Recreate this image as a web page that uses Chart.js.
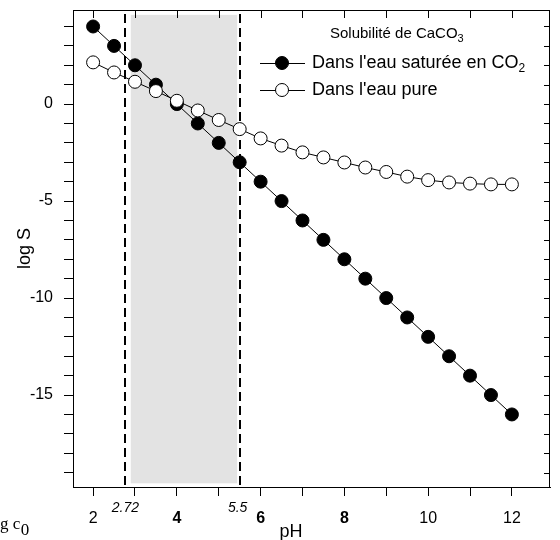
<!DOCTYPE html>
<html lang="fr">
<head>
  <meta charset="UTF-8" />
  <title>Solubilité de CaCO3</title>
  <script src="https://cdn.jsdelivr.net/npm/chart.js"></script>
  <style>
    body { margin: 0; background: #fff; }
    canvas { display: block; }
  </style>
</head>
<body>
  <canvas id="solubilityChart" width="560" height="540"></canvas>

  <script>
    // données
    const phValues = [2, 2.5, 3, 3.5, 4, 4.5, 5, 5.5, 6, 6.5, 7, 7.5, 8, 8.5, 9, 9.5, 10, 10.5, 11, 11.5, 12];
    const logSCo2 = [4, 3, 2, 1, 0, -1, -2, -3, -4, -5, -6, -7, -8, -9, -10, -11, -12, -13, -14, -15, -16];
    const logSPure = [2.15, 1.63, 1.15, 0.67, 0.17, -0.33, -0.82, -1.29, -1.77, -2.14, -2.49, -2.75, -3.01,
                      -3.27, -3.5, -3.74, -3.92, -4.04, -4.1, -4.14, -4.14];

    const xTicks = [2, 3, 4, 5, 6, 7, 8, 9, 10, 11, 12];
    const xTickLabels = [2, 4, 6, 8, 10, 12];
    const yTicks = [-19, -18, -17, -16, -15, -14, -13, -12, -11, -10, -9, -8, -7, -6, -5, -4, -3, -2, -1, 0, 1, 2, 3, 4];
    const yTickLabels = [-15, -10, -5, 0];

    // lignes pointillées et zone grisée
    const markerPh = [2.77, 5.5];
    const markerLabels = ['2.72', '5.5'];
    const bandPh = [2.9, 5.44];
    const bandLogS = [4.6, -19.55];

    const seriesNames = ["Dans l'eau saturée en CO", "Dans l'eau pure"];
    const boldXTicks = [4, 6, 8];

    const FONT = "'Liberation Sans', Arial, sans-serif";
    const SERIF = "'Liberation Serif', 'Times New Roman', serif";

    const decorPlugin = {
      id: 'decor',
      beforeDatasetsDraw(chart) {
        const { ctx, chartArea: a, scales: { x, y } } = chart;
        ctx.save();
        // zone grisée
        const bx0 = x.getPixelForValue(bandPh[0]);
        const bx1 = x.getPixelForValue(bandPh[1]);
        const by0 = y.getPixelForValue(bandLogS[0]);
        const by1 = y.getPixelForValue(bandLogS[1]);
        ctx.fillStyle = '#e3e3e3';
        ctx.fillRect(bx0, by0, bx1 - bx0, by1 - by0);
        // pointillés verticaux
        ctx.strokeStyle = '#000';
        ctx.lineWidth = 2;
        ctx.setLineDash([9, 5]);
        markerPh.forEach(v => {
          const px = Math.round(x.getPixelForValue(v));
          ctx.beginPath();
          ctx.moveTo(px, a.top + 4);
          ctx.lineTo(px, a.bottom);
          ctx.stroke();
        });
        ctx.restore();
      },
      afterDraw(chart) {
        const { ctx, chartArea: a, scales: { x, y } } = chart;
        ctx.save();
        ctx.strokeStyle = '#000';
        ctx.lineWidth = 1;
        // cadre + graduations intérieures haut/droite
        ctx.strokeRect(a.left + 0.5, a.top + 0.5, a.right - a.left - 1, a.bottom - a.top);
        ctx.beginPath();
        xTicks.forEach(v => {
          const px = Math.round(x.getPixelForValue(v)) + 0.5;
          ctx.moveTo(px, a.top);
          ctx.lineTo(px, a.top + 8);
        });
        yTicks.forEach(v => {
          const py = Math.round(y.getPixelForValue(v)) + 0.5;
          ctx.moveTo(a.right, py);
          ctx.lineTo(a.right - 6, py);
        });
        ctx.stroke();

        // étiquettes 2.72 et 5.5
        ctx.fillStyle = '#000';
        ctx.font = 'italic 14px ' + FONT;
        ctx.textAlign = 'center';
        ctx.textBaseline = 'alphabetic';
        markerPh.forEach((v, i) => {
          ctx.fillText(markerLabels[i], x.getPixelForValue(v) - (i === 1 ? 2 : 0), 512);
        });

        // titre de l'axe x
        ctx.font = '18px ' + FONT;
        ctx.fillText('pH', 291, 537);

        // légende
        ctx.textAlign = 'left';
        ctx.font = '15px ' + FONT;
        const tTitle = 'Solubilité de CaCO';
        ctx.fillText(tTitle, 330, 38);
        const tw = ctx.measureText(tTitle).width;
        ctx.font = '11px ' + FONT;
        ctx.fillText('3', 330 + tw, 42);

        const rows = [63, 90];
        rows.forEach((ry, i) => {
          ctx.beginPath();
          ctx.moveTo(260, ry + 0.5);
          ctx.lineTo(305, ry + 0.5);
          ctx.stroke();
          ctx.beginPath();
          ctx.arc(282, ry, 6.5, 0, Math.PI * 2);
          ctx.fillStyle = i === 0 ? '#000' : '#fff';
          ctx.fill();
          ctx.stroke();
          ctx.fillStyle = '#000';
          ctx.font = '18px ' + FONT;
          ctx.fillText(seriesNames[i], 312, ry + 5);
          if (i === 0) {
            const w = ctx.measureText(seriesNames[i]).width;
            ctx.font = '12px ' + FONT;
            ctx.fillText('2', 312 + w, ry + 9);
          }
        });

        // texte coupé en bas à gauche
        ctx.font = '17px ' + SERIF;
        const pre = ctx.measureText('lo').width;
        ctx.fillText('log c', -pre, 529);
        const wc = ctx.measureText('log c').width;
        ctx.fillText('0', -pre + wc + 0.5, 535);
        ctx.restore();
      }
    };

    const ctx = document.getElementById('solubilityChart').getContext('2d');
    new Chart(ctx, {
      type: 'line',
      data: {
        datasets: [
          {
            label: seriesNames[0] + '2',
            data: phValues.map((p, i) => ({ x: p, y: logSCo2[i] })),
            borderColor: '#000',
            borderWidth: 1,
            pointRadius: 6.5,
            pointBackgroundColor: '#000',
            pointBorderColor: '#000',
            pointBorderWidth: 1,
            tension: 0,
            order: 1
          },
          {
            label: seriesNames[1],
            data: phValues.map((p, i) => ({ x: p, y: logSPure[i] })),
            borderColor: '#000',
            borderWidth: 1,
            pointRadius: 6.5,
            pointBackgroundColor: '#fff',
            pointBorderColor: '#000',
            pointBorderWidth: 1,
            tension: 0,
            order: 0
          }
        ]
      },
      options: {
        responsive: false,
        animation: false,
        layout: { padding: { top: 10, right: 10, left: 0, bottom: 0 } },
        plugins: {
          legend: { display: false },
          tooltip: { enabled: false }
        },
        scales: {
          x: {
            type: 'linear',
            min: 1.52,
            max: 12.91,
            afterFit: s => { s.height = 53; s.paddingLeft = 0; s.paddingRight = 0; },
            afterBuildTicks: s => { s.ticks = xTicks.map(v => ({ value: v })); },
            border: { display: true, color: '#000', width: 1 },
            grid: { drawOnChartArea: false, drawTicks: true, tickLength: 9, color: '#000' },
            ticks: {
              color: '#000',
              padding: 13,
              maxRotation: 0,
              autoSkip: false,
              font: c => ({
                family: FONT,
                size: 16,
                weight: c.tick && boldXTicks.includes(c.tick.value) ? 'bold' : 'normal'
              }),
              callback: v => xTickLabels.includes(v) ? String(v) : ''
            }
          },
          y: {
            type: 'linear',
            min: -19.74,
            max: 4.85,
            afterFit: s => { s.width = 73; s.paddingTop = 0; s.paddingBottom = 0; },
            afterBuildTicks: s => { s.ticks = yTicks.map(v => ({ value: v })); },
            border: { display: true, color: '#000', width: 1 },
            grid: { drawOnChartArea: false, drawTicks: true, tickLength: 9, color: '#000' },
            title: {
              display: true,
              text: 'log S',
              color: '#000',
              font: { family: FONT, size: 18 },
              padding: { top: 14, bottom: 0 }
            },
            ticks: {
              color: '#000',
              padding: 11,
              autoSkip: false,
              font: { family: FONT, size: 16 },
              callback: v => yTickLabels.includes(v) ? String(v) : ''
            }
          }
        }
      },
      plugins: [decorPlugin]
    });
  </script>
</body>
</html>
